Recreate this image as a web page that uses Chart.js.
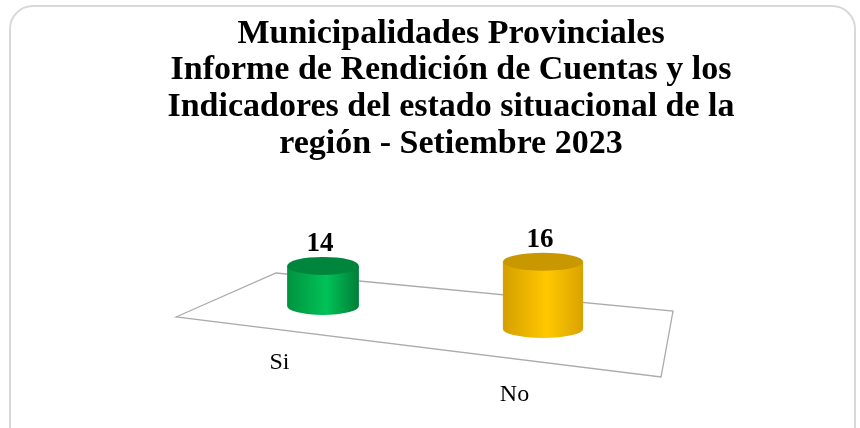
<!DOCTYPE html>
<html>
<head>
<meta charset="utf-8">
<script src="https://cdn.jsdelivr.net/npm/chart.js@4.4.0/dist/chart.umd.min.js"></script>
<style>
  html, body { margin: 0; padding: 0; background: #fff; }
  #wrap { position: relative; width: 860px; height: 428px; overflow: hidden; }
  #frame { position: absolute; left: 9px; top: 5px; width: 847px; height: 450px; border: 2px solid #d9d9d9; border-radius: 24px; box-sizing: border-box; }
  canvas { position: absolute; left: 0; top: 0; }
</style>
</head>
<body>
<div id="wrap">
  <div id="frame"></div>
  <canvas id="chart" width="860" height="428"></canvas>
</div>
<script>
// --- data ---
const categories = ['Si', 'No'];
const values = [14, 16];
const titleLines = [
    'Municipalidades Provinciales',
    'Informe de Rendición de Cuentas y los',
    'Indicadores del estado situacional de la',
    'región - Setiembre 2023'
];

// --- styles ---
const serif = "'Liberation Serif', 'DejaVu Serif', serif";
const cylinderColors = [
    { left: '#00933f', mid: '#00c257', right: '#007e38', top: '#00853c' },
    { left: '#d49f00', mid: '#ffc800', right: '#d9a300', top: '#c99800' }
];

// fake 3D: the floor slopes down to the right and things grow toward the viewer
const SKEW = 0.1045;
const GROW = 0.000505;

function perspective(chart, x) {
    const a = chart.chartArea;
    return 1 + GROW * (x - (a.left + a.right) / 2);
}

function floorY(chart, x) {
    return chart.chartArea.bottom + SKEW * (x - chart.chartArea.left);
}

const cylinderPlugin = {
    id: 'cylinders',
    beforeDatasetsDraw(chart) {
        const { ctx, chartArea: a } = chart;
        // floor outline
        ctx.save();
        ctx.strokeStyle = '#ababab';
        ctx.lineWidth = 1.3;
        ctx.beginPath();
        ctx.moveTo(a.left - 37, a.bottom + 22.5);
        ctx.lineTo(a.left + 63, a.bottom - 21.5);
        ctx.lineTo(a.right + 20, a.bottom + 16.5);
        ctx.lineTo(a.right + 8, a.bottom + 82.5);
        ctx.closePath();
        ctx.stroke();
        ctx.restore();
    },
    afterDatasetsDraw(chart) {
        const ctx = chart.ctx;
        const yScale = chart.scales.y;
        const meta = chart.getDatasetMeta(0);
        meta.data.forEach((bar, i) => {
            const p = bar.getProps(['x', 'y', 'width'], true);
            const f = perspective(chart, p.x);
            const rx = p.width * f / 2;
            const ry = 9;
            const bottom = floorY(chart, p.x);
            // height measured from the axis minimum, not from zero
            const top = bottom - (yScale.bottom - p.y) * f;
            const c = cylinderColors[i];

            ctx.save();
            const g = ctx.createLinearGradient(p.x - rx, 0, p.x + rx, 0);
            g.addColorStop(0, c.left);
            g.addColorStop(0.55, c.mid);
            g.addColorStop(1, c.right);
            ctx.fillStyle = g;
            ctx.beginPath();
            ctx.moveTo(p.x - rx, top);
            ctx.lineTo(p.x - rx, bottom);
            ctx.ellipse(p.x, bottom, rx, ry, 0, Math.PI, 0, true);
            ctx.lineTo(p.x + rx, top);
            ctx.closePath();
            ctx.fill();

            ctx.fillStyle = c.top;
            ctx.beginPath();
            ctx.ellipse(p.x, top, rx, ry, 0, 0, Math.PI * 2);
            ctx.fill();

            // value label
            ctx.fillStyle = '#000';
            ctx.textAlign = 'center';
            ctx.textBaseline = 'alphabetic';
            ctx.font = 'bold 27px ' + serif;
            ctx.fillText(String(values[i]), p.x - 3, top - ry - 6);

            // category label, in front of the floor
            ctx.font = '24px ' + serif;
            ctx.textBaseline = 'middle';
            ctx.fillText(categories[i], p.x - 36 + (f - 1) * 135, bottom + 61.5 + (f - 1) * 80);
            ctx.restore();
        });
    }
};

const ctx = document.getElementById('chart').getContext('2d');
new Chart(ctx, {
    type: 'bar',
    data: {
        labels: categories,
        datasets: [{
            data: values,
            backgroundColor: 'rgba(0,0,0,0)',
            barThickness: 76
        }]
    },
    options: {
        responsive: false,
        animation: false,
        layout: { padding: { left: 42, right: 0, top: 0, bottom: 133.5 } },
        scales: {
            x: { display: false },
            y: {
                min: 10, max: 17,
                grid: { display: false },
                border: { display: false },
                ticks: { display: false },
                afterFit: s => { s.width = 171; }
            },
            y2: {
                position: 'right',
                min: 0, max: 1,
                grid: { display: false },
                border: { display: false },
                ticks: { display: false },
                afterFit: s => { s.width = 207; }
            }
        },
        plugins: {
            legend: { display: false },
            tooltip: { enabled: false },
            title: {
                display: true,
                text: titleLines,
                color: '#000',
                font: { family: serif, size: 34, weight: 'bold', lineHeight: 1.079 },
                padding: { top: 15.5, bottom: 58 }
            }
        }
    },
    plugins: [cylinderPlugin]
});
</script>
</body>
</html>
